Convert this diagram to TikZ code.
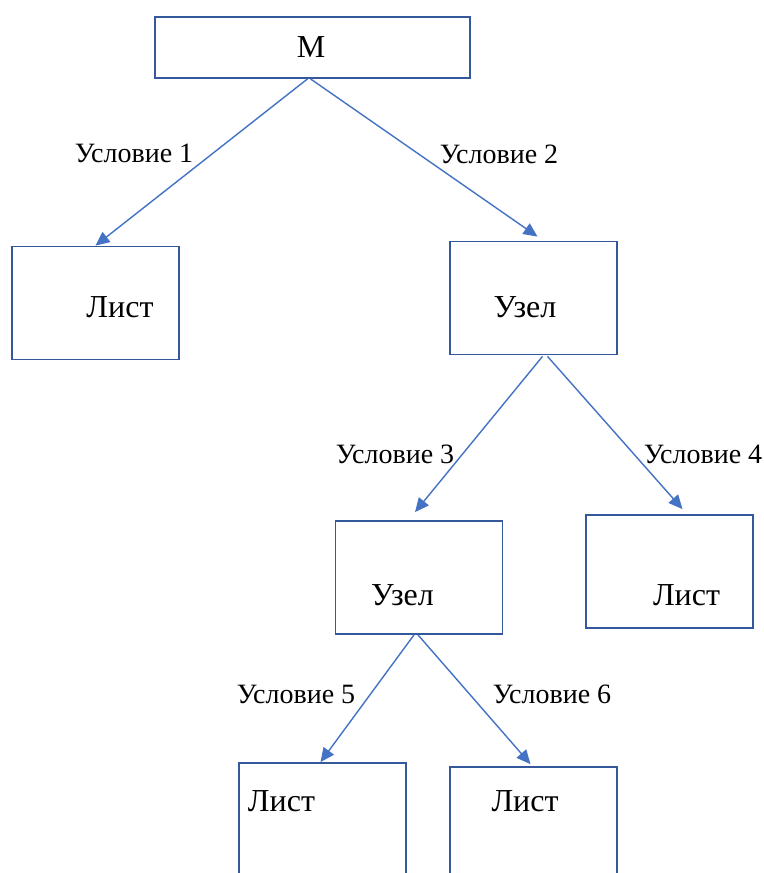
\documentclass[tikz,border=0pt]{standalone}
\usepackage{fontspec}
\setmainfont{Liberation Serif}
\usetikzlibrary{arrows.meta,calc}
\definecolor{boxblue}{RGB}{52,88,155}
\definecolor{linkblue}{RGB}{68,114,196}
\tikzset{
  link/.style={-{Triangle[length=10.5pt,width=9.5pt]},line width=1.05pt,draw=linkblue},
  treebox/.style={
    draw=boxblue,
    line width=1.1pt,
    fill=white,
    inner sep=0pt,
    minimum width=125pt,
    minimum height=85pt
  },
  boxtext/.style={font=\fontsize{24}{28}\selectfont,inner sep=0pt},
  condlabel/.style={font=\fontsize{21}{25}\selectfont,inner sep=0pt}
}

\begin{document}
\begin{tikzpicture}[x=.75pt,y=-.75pt]
  \useasboundingbox[fill=white] (0,0) rectangle (763,873);

  % root
  \node[treebox,minimum width=236pt,minimum height=46pt] (root) at (312.5,47.5) {};
  \node[boxtext] (roottext) at (311,47.5) {М};

  % first level
  \node[treebox] (leafa) at (95.5,303) {};
  \node[boxtext] (leafatext) at (120,307) {Лист};
  \node[treebox] (nodea) at (533.5,298) {};
  \node[boxtext] (nodeatext) at (525,307) {Узел};
  \draw[link] ($(root.south)+(-5,0)$) -- (leafa.north);
  \draw[link] ($(root.south)+(-2,0)$) -- ($(nodea.north)+(4,-4)$);
  \node[condlabel] (cond1) at (134,153) {Условие 1};
  \node[condlabel] (cond2) at (499,154) {Условие 2};

  % second level
  \node[treebox] (nodeb) at (419,577.5) {};
  \node[boxtext] (nodebtext) at (402.5,595) {Узел};
  \node[treebox] (leafb) at (669.5,571.5) {};
  \node[boxtext] (leafbtext) at (686.5,595) {Лист};
  \draw[link] ($(nodea.south)+(9,1)$) -- ($(nodeb.north)+(-4,-8)$);
  \draw[link] ($(nodea.south)+(14,1)$) -- ($(leafb.north)+(13,-5)$);
  \node[condlabel] (cond3) at (395,454) {Условие 3};
  \node[condlabel] (cond4) at (703,454) {Условие 4};

  % third level (cut by the page edge)
  \node[treebox] (leafc) at (322.5,819.5) {};
  \node[boxtext] (leafctext) at (281.5,801) {Лист};
  \node[treebox] (leafd) at (533.5,823.5) {};
  \node[boxtext] (leafdtext) at (525,801) {Лист};
  \draw[link] ($(nodeb.south)+(-5,0)$) -- ($(leafc.north)+(-2,0)$);
  \draw[link] ($(nodeb.south)+(-1,0)$) -- ($(leafd.north)+(-3,-2)$);
  \node[condlabel] (cond5) at (296,694) {Условие 5};
  \node[condlabel] (cond6) at (552,694) {Условие 6};
\end{tikzpicture}
\end{document}
